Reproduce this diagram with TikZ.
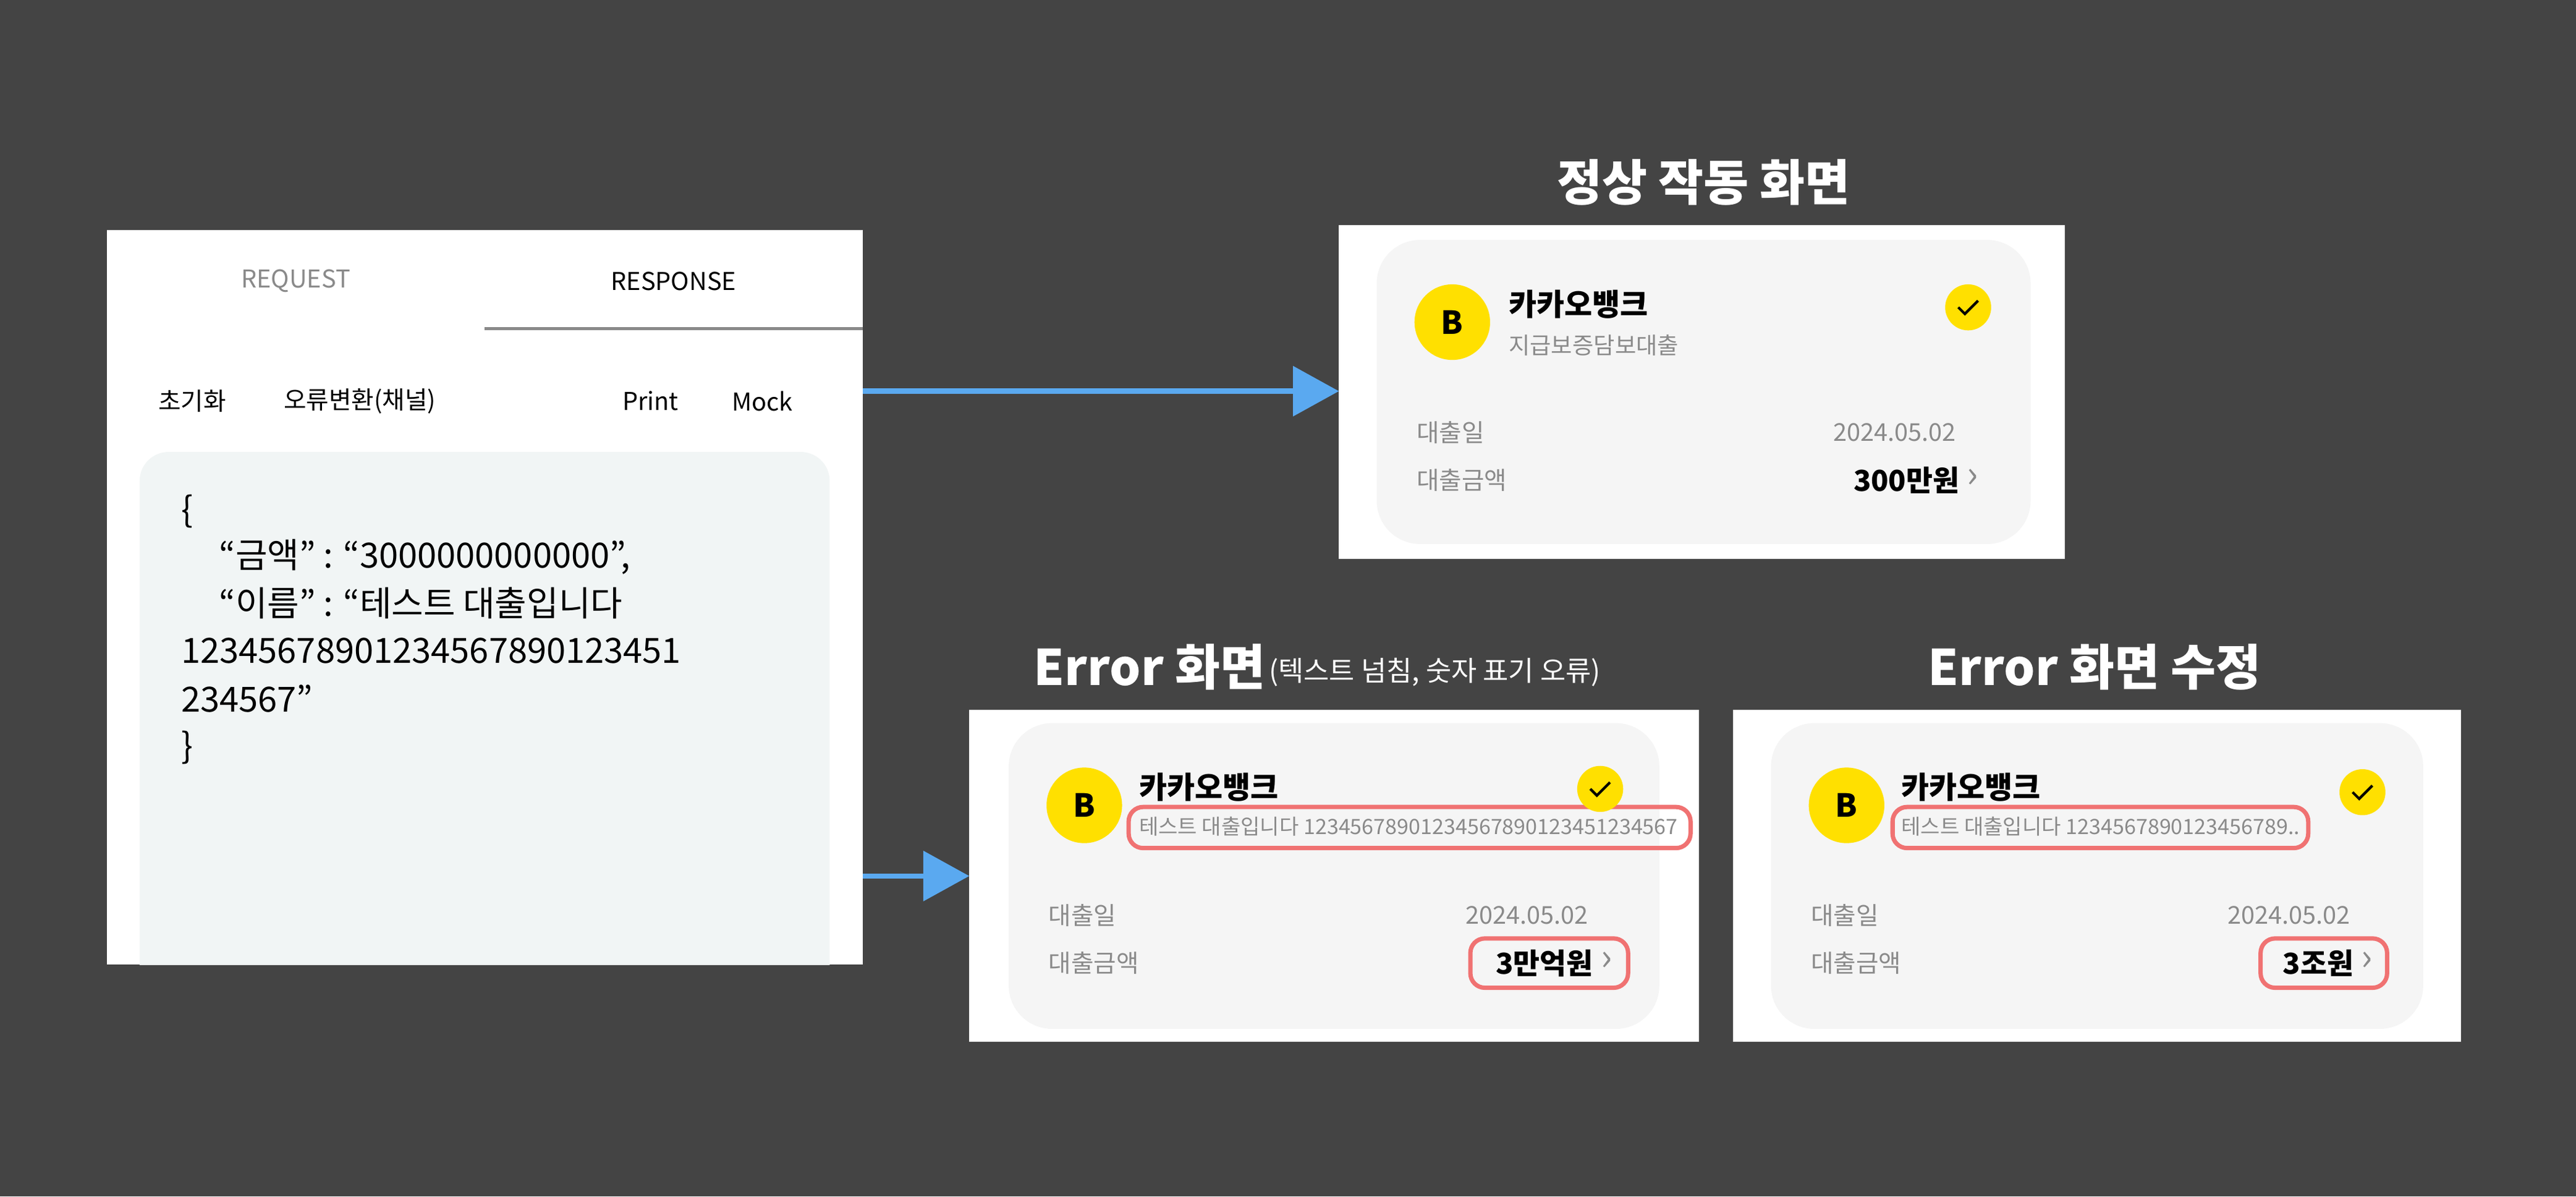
\documentclass[tikz,border=0pt]{standalone}
\usepackage{fontspec}
\setmainfont{Noto Sans CJK KR}
\usetikzlibrary{arrows.meta}
\definecolor{bgDark}{HTML}{444444}
\definecolor{arrowBlue}{HTML}{5AA9F0}
\definecolor{cardGray}{HTML}{F5F5F5}
\definecolor{codeGray}{HTML}{F1F5F5}
\definecolor{kakaoYellow}{HTML}{FFE000}
\definecolor{errRed}{HTML}{F07272}
\definecolor{textGray}{HTML}{8A8A8A}
\begin{document}
\begin{tikzpicture}[x=0.02cm, y=-0.02cm,
    tabStyle/.style={font=\fontsize{8.5}{10}\selectfont},
    codeStyle/.style={anchor=west, font=\fontsize{12}{14}\selectfont, inner sep=0},
    titleStyle/.style={text=white, font=\fontsize{17}{20}\selectfont\bfseries},
    logoStyle/.style={circle, fill=kakaoYellow, minimum size=46*0.02cm, inner sep=0, font=\fontsize{11}{12}\selectfont\bfseries},
    checkStyle/.style={circle, fill=kakaoYellow, minimum size=28*0.02cm, inner sep=0},
    bankStyle/.style={anchor=west, inner sep=0, font=\fontsize{10.5}{12}\selectfont\bfseries},
    subStyle/.style={anchor=west, inner sep=0, text=textGray, font=\fontsize{8}{10}\selectfont},
    smallSub/.style={anchor=west, inner sep=0, text=textGray, font=\fontsize{7.3}{8}\selectfont},
    labelStyle/.style={anchor=west, inner sep=0, text=textGray, font=\fontsize{8.5}{10}\selectfont},
    dateStyle/.style={anchor=east, inner sep=0, text=textGray, font=\fontsize{8.5}{10}\selectfont},
    amountStyle/.style={anchor=east, inner sep=0, font=\fontsize{10}{12}\selectfont\bfseries},
    chevStyle/.style={anchor=west, inner sep=0, text=textGray, font=\fontsize{13}{14}\selectfont},
    errBox/.style={draw=errRed, line width=1.5pt, rounded corners=5},
    flowArrow/.style={arrowBlue, line width=1.8pt, -{Triangle[length=28*0.02cm, width=30*0.02cm]}}]
    % background
    \fill[bgDark] (0,0) rectangle (1568,728);

    % request / response panel
    \fill[white] (65,140) rectangle (525,587);
    \begin{scope}
        \clip (65,140) rectangle (525,587);
        \fill[codeGray, rounded corners=10] (85,275) rectangle (505,620);
    \end{scope}
    \node[tabStyle, text=textGray] (tab_req) at (180,171) {REQUEST};
    \node[tabStyle] (tab_res) at (410,171) {RESPONSE};
    \draw[textGray, line width=1.2pt] (295,200) -- (525,200);
    \node[tabStyle] (btn_init) at (117,244) {초기화};
    \node[tabStyle] (btn_err) at (219,244) {오류변환(채널)};
    \node[tabStyle] (btn_print) at (396,244) {Print};
    \node[tabStyle] (btn_mock) at (464,244) {Mock};
    \node[codeStyle] (code_0) at (110,311) {\{};
    \node[codeStyle] (code_1) at (133,339) {“금액” : “3000000000000”,};
    \node[codeStyle] (code_2) at (133,367) {“이름” : “테스트 대출입니다};
    \node[codeStyle] (code_3) at (110,396) {12345678901234567890123451};
    \node[codeStyle] (code_4) at (110,425) {234567”};
    \node[codeStyle] (code_5) at (110,455) {\}};

    % arrows
    \coordinate (out_top) at (525,238);
    \coordinate (out_bot) at (525,533);
    \coordinate (card1_in) at (815,238);
    \coordinate (card2_in) at (590,533);
    \draw[flowArrow] (out_top) -- (card1_in);
    \draw[flowArrow] (out_bot) -- (card2_in);

    % normal card
    \node[titleStyle] (title_ok) at (1037,111) {정상 작동 화면};
    \fill[white] (815,137) rectangle (1257,340);
    \fill[cardGray, rounded corners=15] (838,146) rectangle (1236,331);
    \node[logoStyle] (logo_ok) at (884,196) {B};
    \node[bankStyle] (bank_ok) at (918,185) {카카오뱅크};
    \node[subStyle] (sub_ok) at (918,210) {지급보증담보대출};
    \node[checkStyle] (chk_ok) at (1198,187) {};
    \draw[line width=0.9pt] (chk_ok.center) ++(-6,0) -- ++(4,4) -- ++(8,-8);
    \node[labelStyle] (date_lbl_ok) at (862,263) {대출일};
    \node[dateStyle] (date_ok) at (1191,263) {2024.05.02};
    \node[labelStyle] (amt_lbl_ok) at (862,292) {대출금액};
    \node[amountStyle] (amt_ok) at (1193,292) {300만원};
    \node[chevStyle] (chev_ok) at (1197,291) {›};

    % error card
    \node[titleStyle, anchor=west, inner sep=0] (title_err) at (629,406) {Error 화면};
    \node[text=white, anchor=west, inner sep=0, font=\fontsize{9.6}{10}\selectfont] (title_err_sub) at (772,409) {(텍스트 넘침, 숫자 표기 오류)};
    \fill[white] (590,432) rectangle (1034,634);
    \fill[cardGray, rounded corners=15] (614,440) rectangle (1010,626);
    \node[logoStyle] (logo_err) at (660,490) {B};
    \node[bankStyle] (bank_err) at (693,479) {카카오뱅크};
    \node[smallSub] (sub_err) at (693,503) {테스트 대출입니다 12345678901234567890123451234567};
    \draw[errBox] (687,491) rectangle (1029,516);
    \node[checkStyle] (chk_err) at (974,480) {};
    \draw[line width=0.9pt] (chk_err.center) ++(-6,0) -- ++(4,4) -- ++(8,-8);
    \node[labelStyle] (date_lbl_err) at (638,557) {대출일};
    \node[dateStyle] (date_err) at (967,557) {2024.05.02};
    \node[labelStyle] (amt_lbl_err) at (638,586) {대출금액};
    \node[amountStyle] (amt_err) at (970,586) {3만억원};
    \node[chevStyle] (chev_err) at (974,585) {›};
    \draw[errBox] (895,571) rectangle (991,601);

    % fixed card
    \node[titleStyle] (title_fix) at (1275,406) {Error 화면 수정};
    \fill[white] (1055,432) rectangle (1498,634);
    \fill[cardGray, rounded corners=15] (1078,440) rectangle (1475,626);
    \node[logoStyle] (logo_fix) at (1124,490) {B};
    \node[bankStyle] (bank_fix) at (1157,479) {카카오뱅크};
    \node[smallSub] (sub_fix) at (1157,503) {테스트 대출입니다 1234567890123456789..};
    \draw[errBox] (1152,491) rectangle (1405,516);
    \node[checkStyle] (chk_fix) at (1438,482) {};
    \draw[line width=0.9pt] (chk_fix.center) ++(-6,0) -- ++(4,4) -- ++(8,-8);
    \node[labelStyle] (date_lbl_fix) at (1102,557) {대출일};
    \node[dateStyle] (date_fix) at (1431,557) {2024.05.02};
    \node[labelStyle] (amt_lbl_fix) at (1102,586) {대출금액};
    \node[amountStyle] (amt_fix) at (1433,586) {3조원};
    \node[chevStyle] (chev_fix) at (1437,585) {›};
    \draw[errBox] (1376,571) rectangle (1453,601);
\end{tikzpicture}
\end{document}
